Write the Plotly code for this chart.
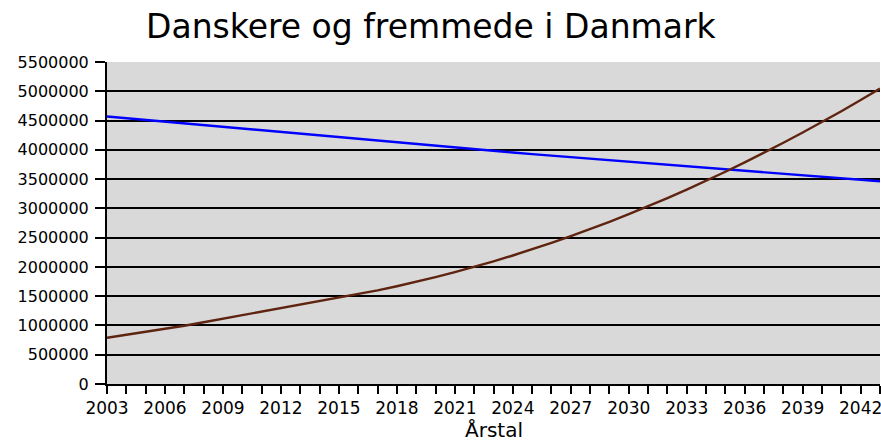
import plotly.graph_objects as go

years = list(range(2003, 2044))
danskere = [4570000, 4540000, 4510000, 4480000, 4450000, 4420000, 4390000, 4360000,
            4330000, 4300000, 4270000, 4240000, 4210000, 4180000, 4150000, 4121000,
            4092000, 4064000, 4036000, 4008000, 3980000, 3953000, 3926000, 3900000,
            3874000, 3848000, 3822000, 3796000, 3770000, 3745000, 3720000, 3695000,
            3670000, 3644000, 3618000, 3592000, 3566000, 3540000, 3514000, 3488000,
            3462000]
fremmede = [790000, 840000, 890000, 940000, 995000, 1055000, 1115000, 1175000,
            1235000, 1295000, 1355000, 1415000, 1475000, 1535000, 1600000, 1670000,
            1745000, 1825000, 1910000, 2000000, 2095000, 2195000, 2300000, 2410000,
            2525000, 2645000, 2770000, 2900000, 3035000, 3175000, 3320000, 3470000,
            3625000, 3785000, 3950000, 4120000, 4295000, 4475000, 4660000, 4850000,
            5045000]

title_text = "Danskere og fremmede i Danmark"
x_title = "Årstal"
font_family = "DejaVu Sans, Verdana, sans-serif"

fig = go.Figure()
fig.add_trace(go.Scatter(x=years, y=danskere, mode="lines", name="Danskere",
                         line=dict(color="#0000ff", width=2.4)))
fig.add_trace(go.Scatter(x=years, y=fremmede, mode="lines", name="Fremmede",
                         line=dict(color="#5e2410", width=2.4)))

fig.update_layout(
    width=881, height=441,
    margin=dict(l=107, r=1, t=62, b=57),
    paper_bgcolor="white",
    plot_bgcolor="#d9d9d9",
    showlegend=False,
    font=dict(family=font_family, color="black"),
    title=dict(text=title_text, x=0.489, xref="container", xanchor="center",
               y=0.941, yref="container", yanchor="middle",
               font=dict(size=33, family=font_family, color="black")),
)
fig.update_xaxes(
    range=[2003, 2043], tickmode="linear", tick0=2003, dtick=3,
    automargin=False, ticklabeloverflow="allow",
    showgrid=False, zeroline=False,
    showline=True, linecolor="black", linewidth=2,
    ticks="outside", ticklen=8, tickcolor="black", tickwidth=2,
    tickfont=dict(size=17, family=font_family),
    minor=dict(tickmode="linear", tick0=2003, dtick=1, ticks="outside",
               ticklen=8, tickcolor="black", tickwidth=2, showgrid=False),
)
fig.update_yaxes(
    range=[0, 5500000], tickmode="linear", tick0=0, dtick=500000,
    tickformat="d", automargin=False, ticklabelstandoff=3,
    showgrid=True, gridcolor="black", gridwidth=1.5,
    zeroline=False,
    showline=True, linecolor="black", linewidth=2,
    ticks="outside", ticklen=10, tickcolor="black", tickwidth=2,
    tickfont=dict(size=16, family=font_family),
)
fig.add_annotation(text=x_title, x=0.5, xref="paper", y=-0.142, yref="paper",
                   xanchor="center", yanchor="middle", showarrow=False,
                   font=dict(size=20, family=font_family, color="black"))

fig.write_html(
    "out.html",
    config={"displayModeBar": False},
    post_script="document.body.style.margin='0px';document.body.style.overflow='hidden';",
)
